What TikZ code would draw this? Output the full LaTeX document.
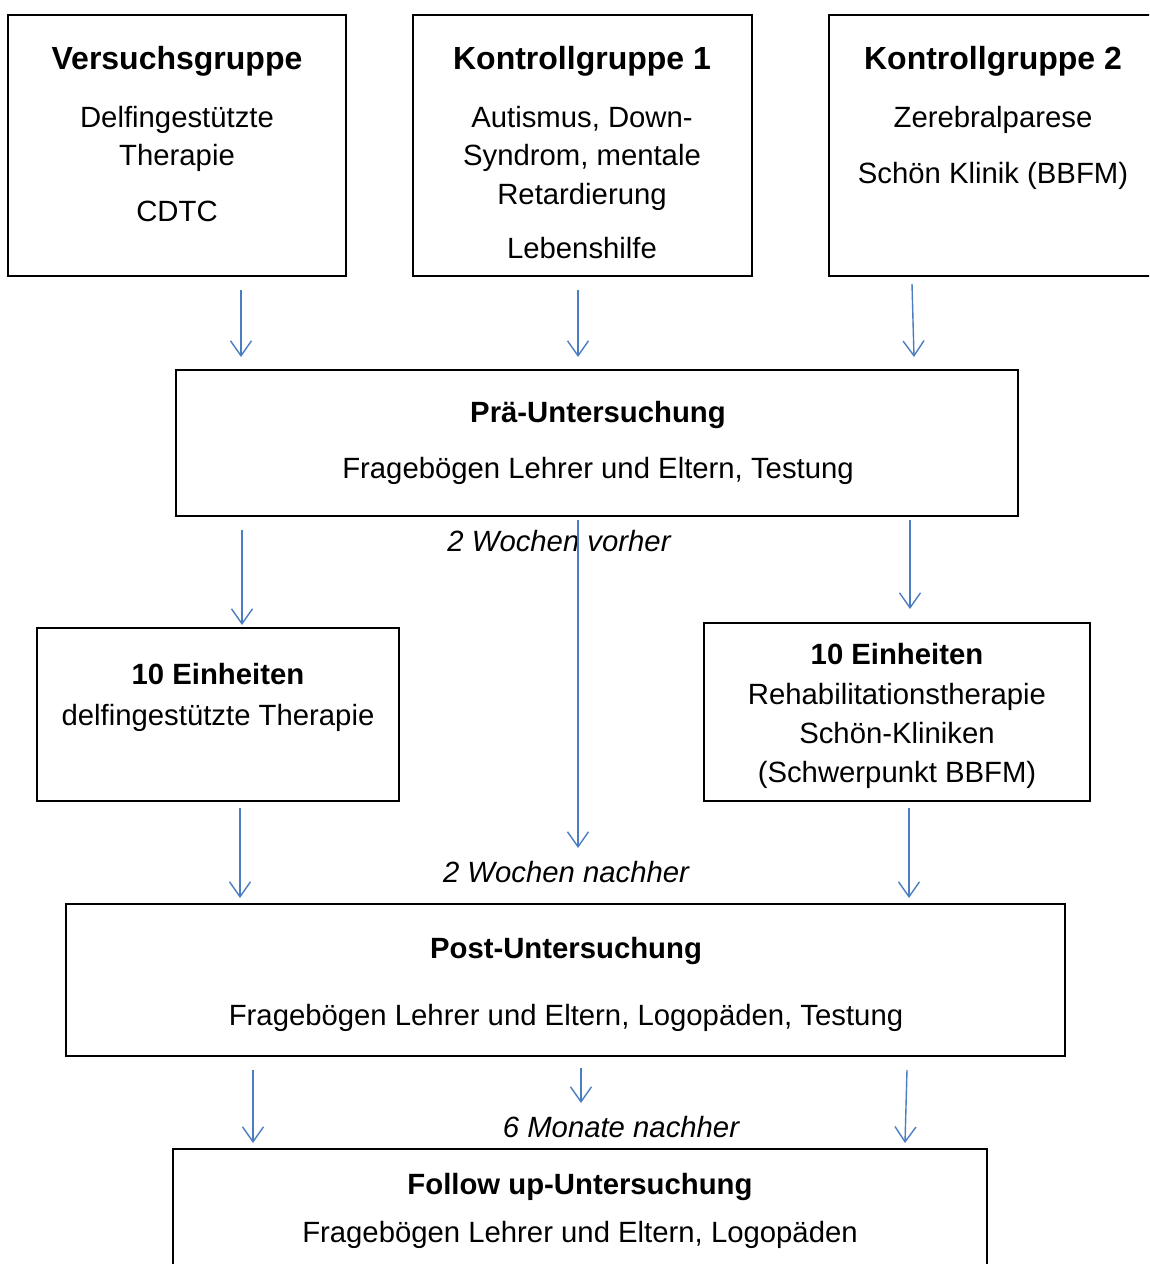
\documentclass[tikz,border=0pt]{standalone}
\usepackage{fontspec}
\setmainfont{Liberation Sans}
\usetikzlibrary{arrows.meta}
\definecolor{arrowblue}{RGB}{74,126,193}
\tikzset{
  box/.style={draw=black, line width=1.2pt, fill=none, inner sep=0pt},
  txt/.style={anchor=base, inner sep=0pt, font=\fontsize{29.3}{38.5}\selectfont},
  btxt/.style={txt, font=\fontsize{29.3}{38.5}\selectfont\bfseries},
  htxt/.style={txt, font=\fontsize{32}{38.5}\selectfont\bfseries},
  itxt/.style={txt, font=\fontsize{29.3}{38.5}\selectfont\itshape},
  flow/.style={draw=arrowblue, line width=1.4pt, -{Straight Barb[length=15pt,width=21pt,line width=1.4pt]}}
}
\begin{document}
\begin{tikzpicture}[x=1pt,y=-1pt]
\useasboundingbox (0,0) rectangle (1149,1264);
\clip (0,0) rectangle (1149,1264);
% boxes
\node[box, minimum width=338, minimum height=261] (vg) at (177,145.5) {};
\node[box, minimum width=339, minimum height=261] (kg1) at (582.5,145.5) {};
\node[box, minimum width=340, minimum height=261] (kg2) at (999,145.5) {};
\node[box, minimum width=842, minimum height=146] (pre) at (597,443) {};
\node[box, minimum width=362, minimum height=173] (eL) at (218,714.5) {};
\node[box, minimum width=386, minimum height=178] (eR) at (897,712) {};
\node[box, minimum width=999, minimum height=152] (post) at (565.5,980) {};
\node[box, minimum width=814, minimum height=140] (fu) at (580,1219) {};
% texts
\node[htxt] (t1) at (177,69.5) {Versuchsgruppe};
\node[txt] (t2) at (177,127) {Delfingestützte};
\node[txt] (t3) at (177,165) {Therapie};
\node[txt] (t4) at (177,221) {CDTC};
\node[htxt] (k1) at (582,69.5) {Kontrollgruppe 1};
\node[txt] (k2) at (582,127) {Autismus, Down-};
\node[txt] (k3) at (582,165) {Syndrom, mentale};
\node[txt] (k4) at (582,204) {Retardierung};
\node[txt] (k5) at (582,258) {Lebenshilfe};
\node[htxt] (m1) at (993,69.5) {Kontrollgruppe 2};
\node[txt] (m2) at (993,127) {Zerebralparese};
\node[txt] (m3) at (993,183) {Schön Klinik (BBFM)};
\node[btxt] (p1) at (598,422) {Prä-Untersuchung};
\node[txt] (p2) at (598,478) {Fragebögen Lehrer und Eltern, Testung};
\node[itxt] (w1) at (559,551) {2 Wochen vorher};
\node[btxt] (l1) at (218,684) {10 Einheiten};
\node[txt] (l2) at (218,725) {delfingestützte Therapie};
\node[btxt] (r1) at (897,664) {10 Einheiten};
\node[txt] (r2) at (897,704) {Rehabilitationstherapie};
\node[txt] (r3) at (897,743) {Schön-Kliniken};
\node[txt] (r4) at (897,782) {(Schwerpunkt BBFM)};
\node[itxt] (w2) at (566,882) {2 Wochen nachher};
\node[btxt] (q1) at (566,958) {Post-Untersuchung};
\node[txt] (q2) at (566,1025) {Fragebögen Lehrer und Eltern, Logopäden, Testung};
\node[itxt] (w3) at (621,1137) {6 Monate nachher};
\node[btxt] (f1) at (580,1194) {Follow up-Untersuchung};
\node[txt] (f2) at (580,1242) {Fragebögen Lehrer und Eltern, Logopäden};
% arrow end points
\coordinate (a1s) at (241,290); \coordinate (a1e) at (241,357);
\coordinate (a2s) at (578,290); \coordinate (a2e) at (578,357);
\coordinate (a3s) at (912,284); \coordinate (a3e) at (914,357);
\coordinate (b1s) at (242,530); \coordinate (b1e) at (242,625);
\coordinate (b2s) at (578,520); \coordinate (b2e) at (578,848);
\coordinate (b3s) at (910,520); \coordinate (b3e) at (910,609);
\coordinate (c1s) at (240,808); \coordinate (c1e) at (240,898);
\coordinate (c2s) at (909,808); \coordinate (c2e) at (909,898);
\coordinate (d1s) at (253,1070); \coordinate (d1e) at (253,1143);
\coordinate (d2s) at (581,1068); \coordinate (d2e) at (581,1103);
\coordinate (d3s) at (907,1070); \coordinate (d3e) at (905,1143);
% arrows
\draw[flow] (a1s) -- (a1e);
\draw[flow] (a2s) -- (a2e);
\draw[flow] (a3s) -- (a3e);
\draw[flow] (b1s) -- (b1e);
\draw[flow] (b2s) -- (b2e);
\draw[flow] (b3s) -- (b3e);
\draw[flow] (c1s) -- (c1e);
\draw[flow] (c2s) -- (c2e);
\draw[flow] (d1s) -- (d1e);
\draw[flow] (d2s) -- (d2e);
\draw[flow] (d3s) -- (d3e);
\end{tikzpicture}
\end{document}
